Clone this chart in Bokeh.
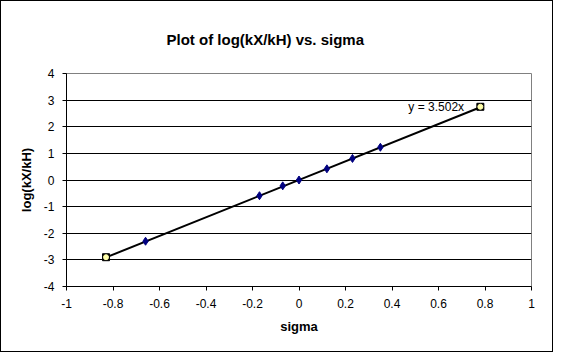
from bokeh.plotting import figure
from bokeh.models import Range1d, FixedTicker, Label
from bokeh.embed import file_html
from bokeh.resources import INLINE

# ---- data ----
sigma = [-0.66, -0.17, -0.07, 0.0, 0.12, 0.23, 0.35]
log_ratio = [-2.30, -0.59, -0.22, 0.0, 0.42, 0.81, 1.23]
end_sigma = [-0.83, 0.78]
end_log_ratio = [-2.90, 2.75]
slope = 3.502
trend_x = [-0.83, 0.78]
x_ticks = [-1, -0.8, -0.6, -0.4, -0.2, 0, 0.2, 0.4, 0.6, 0.8, 1]
x_tick_labels = ["-1", "-0.8", "-0.6", "-0.4", "-0.2", "0", "0.2", "0.4", "0.6", "0.8", "1"]
y_ticks = [-4, -3, -2, -1, 0, 1, 2, 3, 4]
y_tick_labels = ["-4", "-3", "-2", "-1", "0", "1", "2", "3", "4"]
title_text = "Plot of log(kX/kH) vs. sigma"
x_label = "sigma"
y_label = "log(kX/kH)"
eq_text = "y = 3.502x"

FONT = "Liberation Sans"

p = figure(width=553, height=352, output_backend="svg", toolbar_location=None,
           x_range=Range1d(-1, 1), y_range=Range1d(-4, 4),
           min_border_left=65, min_border_right=23, min_border_top=72, min_border_bottom=67,
           background_fill_color="white", border_fill_color="white")
p.styles = {"border": "1px solid black"}

p.title.text = title_text
p.title.align = "left"
p.title.offset = 100
p.title.text_font = FONT
p.title.text_font_size = "15px"
p.title.text_font_style = "bold"
p.title.text_color = "black"
p.title.standoff = 52

p.outline_line_color = "#808080"
p.outline_line_width = 1

p.xgrid.visible = False
p.ygrid.grid_line_color = "black"
p.ygrid.grid_line_width = 1
p.ygrid.ticker = FixedTicker(ticks=y_ticks[1:-1])

for ax in (p.xaxis[0], p.yaxis[0]):
    ax.axis_line_color = "black"
    ax.major_tick_line_color = "black"
    ax.major_tick_out = 4
    ax.major_tick_in = 0
    ax.minor_tick_out = 0
    ax.minor_tick_in = 0
    ax.major_label_text_font = FONT
    ax.major_label_text_font_size = "12px"
    ax.major_label_text_color = "black"
    ax.axis_label_text_font = FONT
    ax.axis_label_text_font_size = "13px"
    ax.axis_label_text_font_style = "bold"
    ax.axis_label_text_color = "black"

p.xaxis[0].ticker = FixedTicker(ticks=x_ticks)
p.xaxis[0].major_label_overrides = {t: l for t, l in zip(x_ticks, x_tick_labels)}
p.yaxis[0].ticker = FixedTicker(ticks=y_ticks)
p.yaxis[0].major_label_overrides = {t: l for t, l in zip(y_ticks, y_tick_labels)}
p.xaxis[0].axis_label = x_label
p.yaxis[0].axis_label = y_label
p.xaxis[0].major_label_standoff = 8
p.yaxis[0].major_label_standoff = 8
p.xaxis[0].axis_label_standoff = 8
p.yaxis[0].axis_label_standoff = 7

# trendline
p.line(trend_x, [slope * x for x in trend_x], line_color="black", line_width=2)

# data points
p.scatter(sigma, log_ratio, marker="diamond", size=8,
          fill_color="#000080", line_color="#000080")

# equation label
p.add_layout(Label(x=0.71, y=2.76, text=eq_text, text_align="right",
                   text_baseline="middle", text_font=FONT, text_font_size="12px",
                   text_color="black"))

# end markers
p.scatter(end_sigma, end_log_ratio, marker="square", size=7,
          fill_color="black", line_color="black")
p.scatter(end_sigma, end_log_ratio, marker="circle", size=5,
          fill_color="#FFFFAA", line_color="#FFFFAA")

open("out.html", "w").write(file_html(p, INLINE))
